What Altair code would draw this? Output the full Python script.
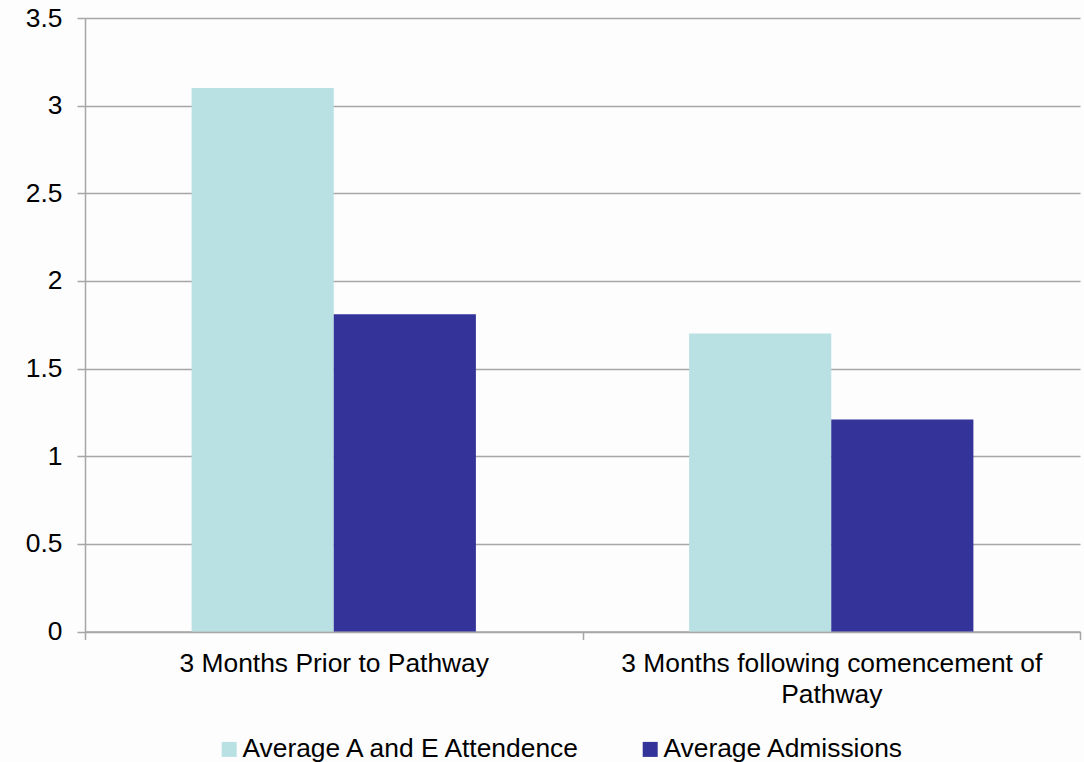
import altair as alt
import pandas as pd

# Category labels, split into the lines they are drawn on
category_lines = [
    ["3 Months Prior to Pathway"],
    ["3 Months following comencement of", "Pathway"],
]
categories = [" ".join(lines) for lines in category_lines]

series = ["Average A and E Attendence", "Average Admissions"]
series_colors = ["#B9E0E3", "#333399"]

attendance = [3.1, 1.7]
admissions = [1.81, 1.21]

y_ticks = [0, 0.5, 1, 1.5, 2, 2.5, 3, 3.5]

rows = []
for i, cat in enumerate(categories):
    rows.append({"period": cat, "series": series[0], "value": attendance[i]})
    rows.append({"period": cat, "series": series[1], "value": admissions[i]})
df = pd.DataFrame(rows)

# Multi-line axis labels
label_expr = "datum.label"
for lines, cat in zip(category_lines, categories):
    if len(lines) > 1:
        arr = "[" + ", ".join("'" + s + "'" for s in lines) + "]"
        label_expr = f"datum.label == '{cat}' ? {arr} : " + label_expr

FONT = "Liberation Sans, Arial, sans-serif"
FS = 26.4
GRID = "#A6A6A6"

chart = (
    alt.Chart(df)
    .mark_bar()
    .encode(
        x=alt.X(
            "period:N",
            sort=categories,
            scale=alt.Scale(paddingInner=0, paddingOuter=0),
            axis=alt.Axis(
                title=None,
                labelAngle=0,
                labelExpr=label_expr,
                labelLimit=800,
                labelLineHeight=31,
                labelPadding=11,
                labelBaseline="top",
                tickBand="extent",
                tickSize=8,
                tickColor=GRID,
                tickWidth=1.5,
                domainColor=GRID,
                domainWidth=1.5,
                grid=False,
            ),
        ),
        xOffset=alt.XOffset(
            "series:N",
            sort=series,
            scale=alt.Scale(paddingOuter=0.75, paddingInner=0),
        ),
        y=alt.Y(
            "value:Q",
            scale=alt.Scale(domain=[0, 3.5], nice=False),
            axis=alt.Axis(
                title=None,
                values=y_ticks,
                format="~g",
                labelPadding=15,
                tickSize=8,
                tickColor=GRID,
                tickWidth=1.5,
                domainColor=GRID,
                domainWidth=1.5,
                grid=True,
                gridColor=GRID,
                gridWidth=1.5,
            ),
        ),
        color=alt.Color(
            "series:N",
            sort=series,
            scale=alt.Scale(domain=series, range=series_colors),
            legend=alt.Legend(
                title=None,
                orient="none",
                direction="horizontal",
                legendX=131,
                legendY=718,
                padding=0,
                symbolType="square",
                symbolSize=225,
                symbolStrokeWidth=0,
                labelOffset=0,
                columnPadding=54,
                labelLimit=1000,
            ),
        ),
    )
    .properties(
        width=995,
        height=613.5,
        padding={"left": 85, "top": 18, "right": 4, "bottom": 130.5},
        autosize=alt.AutoSizeParams(type="none"),
        background="#FDFDFD",
    )
    .configure_view(stroke=None)
    .configure_axis(
        labelFont=FONT,
        labelFontSize=FS,
        labelColor="#000000",
    )
    .configure_legend(
        labelFont=FONT,
        labelFontSize=FS,
        labelColor="#000000",
    )
)

chart.save("out.html", embed_options={"renderer": "svg", "actions": False})
